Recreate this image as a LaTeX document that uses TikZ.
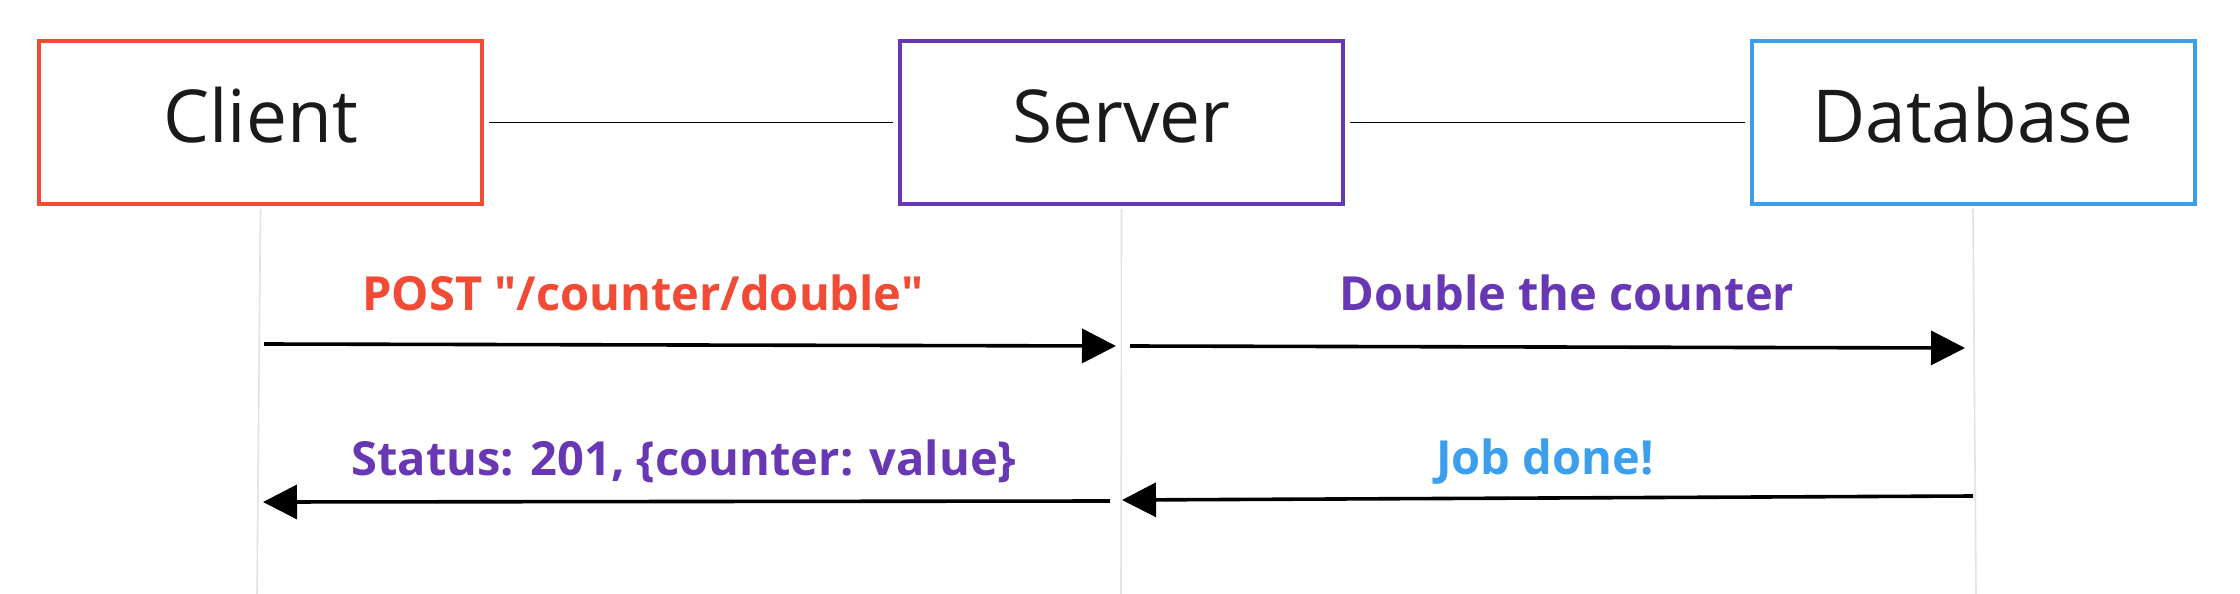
\documentclass[tikz,border=0pt]{standalone}
\usepackage{fontspec}
\setmainfont{Open Sans}
\newfontfamily\lblfont{Open Sans}[Ligatures=TeXOff]
\usetikzlibrary{arrows.meta}
\definecolor{cred}{HTML}{F14B36}
\definecolor{cpurple}{HTML}{6837B3}
\definecolor{cblue}{HTML}{3B9FEE}
\definecolor{ctext}{HTML}{1A1A1A}
\definecolor{cgray}{HTML}{E2E2E2}
\begin{document}
\begin{tikzpicture}[x=1pt,y=-1pt,
  actor/.style={draw=#1, line width=4pt, fill=white, minimum width=443pt, minimum height=163pt,
    inner sep=0pt, text=ctext, font=\fontsize{73}{88}\selectfont, text height=54pt, text depth=14pt},
  link/.style={line width=1.6pt, black, shorten >=5pt, shorten <=5pt},
  life/.style={line width=1.6pt, cgray},
  msg/.style={line width=3.6pt, black, -{Triangle[length=34pt,width=34pt]}},
  lbl/.style={anchor=base, font=\lblfont\bfseries\fontsize{47}{56}\selectfont, text=#1}]
\useasboundingbox (0,0) rectangle (2240,594);
\fill[white] (0,0) rectangle (2240,594);

\node[actor=cred] (client) at (260.5,122.5) {Client};
\node[actor=cpurple] (server) at (1121.5,122.5) {Server};
\node[actor=cblue] (db) at (1973,122.5) {Database};

\coordinate (cbot) at (257,594);
\coordinate (sbot) at (1121,594);
\coordinate (dbot) at (1976,594);
\draw[life] ([yshift=-3pt]client.south) -- (cbot);
\draw[life] ([yshift=-3pt]server.south) -- (sbot);
\draw[life] ([yshift=-3pt]db.south) -- (dbot);

\draw[link] (client.east) -- (server.west);
\draw[link] (server.east) -- (db.west);

\coordinate (m1s) at (264,344);
\coordinate (m1e) at (1116,346);
\coordinate (m2s) at (1130,346);
\coordinate (m2e) at (1965,348);
\coordinate (m3s) at (1110,501);
\coordinate (m3e) at (263,502);
\coordinate (m4s) at (1973,496);
\coordinate (m4e) at (1122,500);

\draw[msg] (m1s) -- (m1e);
\draw[msg] (m2s) -- (m2e);
\draw[msg] (m3s) -- (m3e);
\draw[msg] (m4s) -- (m4e);

\node[lbl=cred] (l1) at (643,310) {POST "/counter/double"};
\node[lbl=cpurple] (l2) at (1567,310) {Double the counter};
\node[lbl=cpurple] (l3) at (684,475) {Status: 201, \{counter: value\}};
\node[lbl=cblue] (l4) at (1545,474) {Job done!};
\end{tikzpicture}
\end{document}
